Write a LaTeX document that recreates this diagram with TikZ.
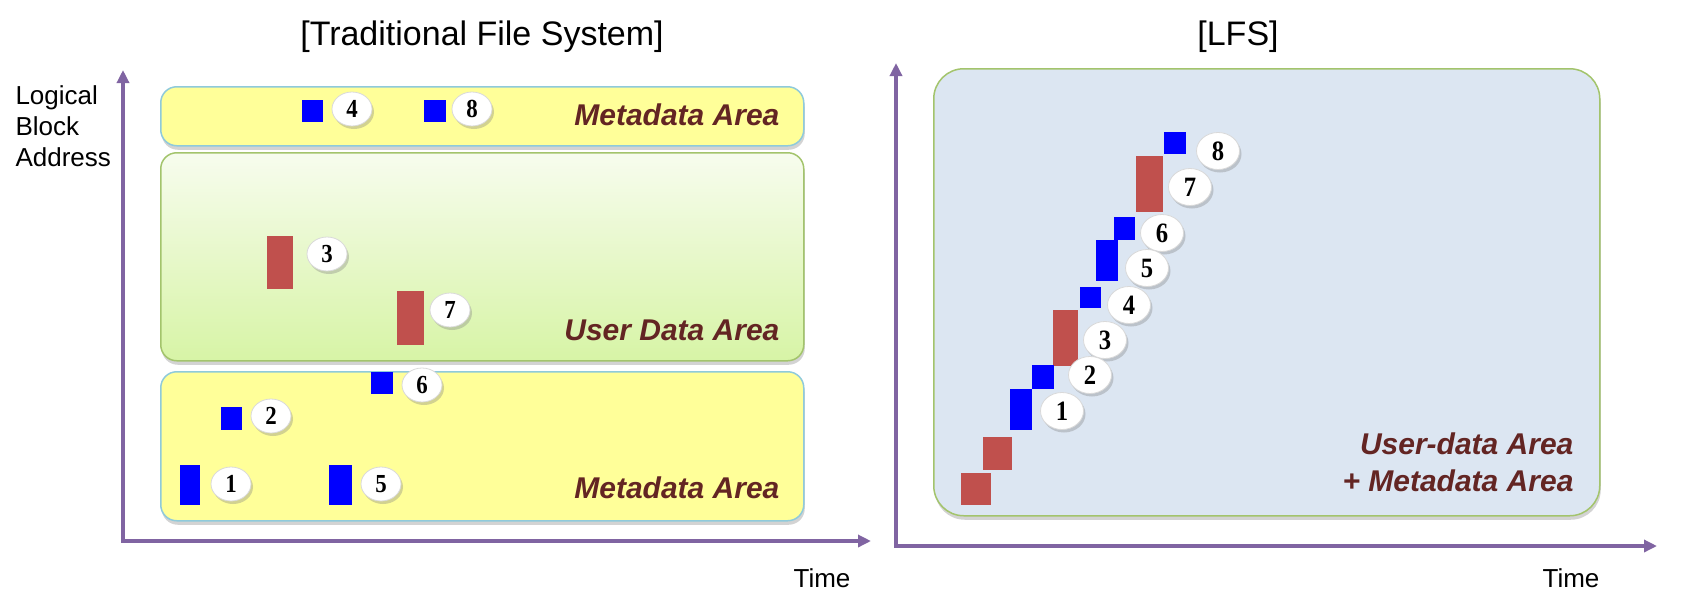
\documentclass[tikz,border=0pt]{standalone}
\usepackage{fontspec}
\setmainfont{Liberation Sans}
\newfontfamily\numfont[FakeStretch=0.88]{Liberation Serif}
\usetikzlibrary{arrows.meta,shapes.geometric,shadows}
\definecolor{axispurple}{HTML}{8064A2}
\definecolor{metayellow}{HTML}{FFFF99}
\definecolor{metaedge}{HTML}{8FCADB}
\definecolor{usertop}{HTML}{F7FCEE}
\definecolor{userbottom}{HTML}{D7F4A6}
\definecolor{useredge}{HTML}{A3C46C}
\definecolor{lfsblue}{HTML}{DCE6F2}
\definecolor{blockred}{HTML}{C0504D}
\definecolor{blockblue}{HTML}{0000FF}
\definecolor{labelred}{HTML}{632523}

\begin{document}
\begin{tikzpicture}[x=1pt,y=-1pt,
    axis/.style={draw=axispurple,line width=3.5pt,{Triangle[length=13pt,width=12pt]}-{Triangle[length=13pt,width=12pt]}},
    areabox/.style={line width=1.5pt,anchor=north west,inner sep=0pt,
        drop shadow={shadow xshift=1pt,shadow yshift=-4pt,opacity=.35}},
    metabox/.style={areabox,draw=metaedge,fill=metayellow,rounded corners=16pt},
    userbox/.style={areabox,draw=useredge,top color=usertop,bottom color=userbottom,rounded corners=16pt},
    lfsbox/.style={areabox,draw=useredge,fill=lfsblue,rounded corners=30pt},
    numball/.style={ellipse,fill=white,draw=gray!30,line width=.8pt,inner sep=0pt,
        minimum width=40pt,minimum height=34pt,
        drop shadow={shadow xshift=2pt,shadow yshift=-3pt,opacity=.35},
        font=\numfont\bfseries\fontsize{26}{26}\selectfont},
    bigball/.style={numball,minimum width=43pt,minimum height=37pt,
        font=\numfont\bfseries\fontsize{28}{28}\selectfont},
    arealabel/.style={anchor=east,align=right,text=labelred,
        font=\bfseries\itshape\fontsize{30}{37}\selectfont},
    titletext/.style={font=\fontsize{34}{40}\selectfont},
    axistext/.style={font=\fontsize{26}{31}\selectfont}]
\useasboundingbox (0,0) rectangle (1684,606);

\node[titletext] (titletfs) at (482,37) {[Traditional File System]};
\node[titletext] (titlelfs) at (1238,37) {[LFS]};
\node[axistext,anchor=north west,align=left] (lba) at (12,82) {Logical\\Block\\Address};
\node[axistext] (timetfs) at (822,578) {Time};
\node[axistext] (timelfs) at (1571,578) {Time};

\coordinate (ytfs) at (123,70);
\coordinate (xtfs) at (871,541);
\coordinate (ylfs) at (896,63);
\coordinate (xlfs) at (1657,546);
\draw[axis] (ytfs) |- (xtfs);
\draw[axis] (ylfs) |- (xlfs);

\node[metabox,minimum width=643pt,minimum height=59pt] (metatop) at (160,86) {};
\node[userbox,minimum width=643pt,minimum height=208pt] (userarea) at (160,152) {};
\node[metabox,minimum width=643pt,minimum height=149pt] (metabottom) at (160,371) {};
\node[lfsbox,minimum width=666pt,minimum height=447pt] (lfsarea) at (933,68) {};

\node[arealabel] (metatoplabel) at (783,115) {Metadata Area};
\node[arealabel] (userlabel) at (783,330) {User Data Area};
\node[arealabel] (metabottomlabel) at (783,488) {Metadata Area};
\node[arealabel] (lfslabel) at (1577,462) {User-data Area\\+ Metadata Area};

\foreach \xa/\ya/\xb/\yb/\c in {302/100/323/122/blockblue, 424/100/446/122/blockblue,
    267/236/293/289/blockred, 397/291/424/345/blockred, 371/372/393/394/blockblue,
    221/407/242/430/blockblue, 180/465/200/505/blockblue, 329/465/352/505/blockblue,
    1164/132/1186/154/blockblue, 1136/156/1163/212/blockred, 1114/217/1135/240/blockblue,
    1096/240/1118/281/blockblue, 1080/287/1101/308/blockblue, 1053/310/1078/366/blockred,
    1032/365/1054/389/blockblue, 1010/389/1032/430/blockblue, 983/437/1012/470/blockred,
    961/473/991/505/blockred}
    \fill[\c] (\xa,\ya) rectangle (\xb,\yb);

\foreach \n/\px/\py in {4/352/109, 8/472/109, 3/327/254, 7/450/310,
    6/422/385, 2/271/416, 1/231/484, 5/381/484}
    \node[numball] (tfs\n) at (\px,\py) {\n};
\foreach \n/\px/\py in {8/1218/151, 7/1190/187, 6/1162/233, 5/1147/268,
    4/1129/305, 3/1105/340, 2/1090/375, 1/1062/411}
    \node[bigball] (lfs\n) at (\px,\py) {\n};
\end{tikzpicture}
\end{document}
